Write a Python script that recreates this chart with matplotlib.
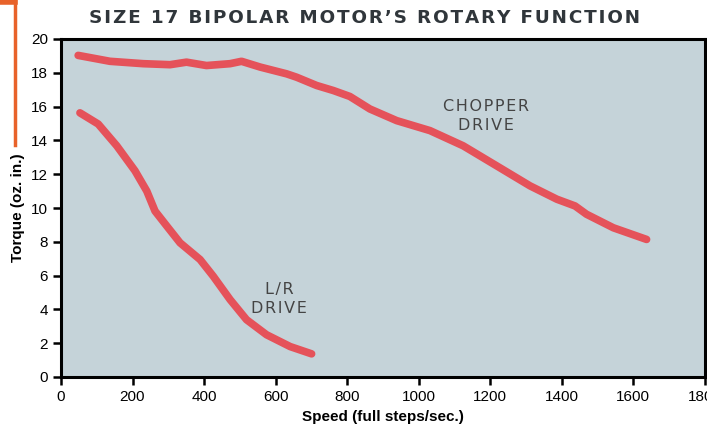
import matplotlib
matplotlib.use("Agg")
from matplotlib import pyplot as plt
from matplotlib.lines import Line2D

# chopper drive curve
chop_speed = [48, 137, 230, 305, 351, 407, 473, 505, 557, 631, 659, 715, 762, 808,
              864, 939, 1032, 1125, 1219, 1312, 1387, 1438, 1470, 1545, 1638]
chop_torque = [19.03, 18.68, 18.54, 18.48, 18.63, 18.43, 18.54, 18.68, 18.34, 17.94,
               17.74, 17.25, 16.95, 16.6, 15.86, 15.17, 14.58, 13.68, 12.49, 11.31,
               10.52, 10.12, 9.63, 8.83, 8.14]

# L/R drive curve
lr_speed = [53, 104, 156, 207, 240, 263, 296, 333, 389, 426, 473, 519, 575, 641, 701]
lr_torque = [15.63, 14.97, 13.68, 12.2, 11.0, 9.82, 8.93, 7.94, 6.95, 5.96, 4.58,
             3.39, 2.5, 1.8, 1.37]

xticks = [0, 200, 400, 600, 800, 1000, 1200, 1400, 1600, 1800]
yticks = [0, 2, 4, 6, 8, 10, 12, 14, 16, 18, 20]

red = '#e5525a'
plt.rcParams['font.family'] = ['Liberation Sans', 'DejaVu Sans']


def spaced(s, sep='\u200a'):
    return '\n'.join(sep.join(line) for line in s.split('\n'))


fig = plt.figure(figsize=(7.07, 4.34), dpi=100)
ax = fig.add_axes([61/707, 57/434, 643.5/707, 338/434])
ax.set_facecolor('#c5d3d9')

ax.plot(chop_speed, chop_torque, color=red, lw=5.5, solid_capstyle='round', solid_joinstyle='round')
ax.plot(lr_speed, lr_torque, color=red, lw=5.5, solid_capstyle='round', solid_joinstyle='round')

ax.set_xlim(0, 1800)
ax.set_ylim(0, 20)
ax.set_xticks(xticks)
ax.set_yticks(yticks)
ax.tick_params(direction='out', length=6, width=1.8, labelsize=11, color='black')
for s in ax.spines.values():
    s.set_linewidth(2.2)

ax.set_xlabel('Speed (full steps/sec.)', fontsize=11, fontweight='bold', labelpad=4)
ax.set_ylabel('Torque (oz. in.)', fontsize=11, fontweight='bold', labelpad=4)

ax.text(1189, 15.45, spaced('CHOPPER\nDRIVE'), ha='center', va='center', fontsize=11.5,
        color='#444444', family='DejaVu Sans', linespacing=1.35)
ax.text(610, 4.63, spaced('L/R\nDRIVE'), ha='center', va='center', fontsize=11.5,
        color='#444444', family='DejaVu Sans', linespacing=1.35)

fig.text(365/707, 1 - 18/434, spaced('SIZE 17 BIPOLAR MOTOR\u2019S ROTARY FUNCTION'),
         ha='center', va='center', fontsize=13.2, fontweight='heavy', color='#30363b',
         family='DejaVu Sans')

# orange accent at the top-left corner
fig.add_artist(Line2D([15/707, 15/707], [1, 1 - 145/434], color='#e8622a', lw=2.5, transform=fig.transFigure))
fig.add_artist(Line2D([0, 15/707], [1 - 2/434, 1 - 2/434], color='#e8622a', lw=4, transform=fig.transFigure))

fig.savefig('out.png', dpi=100)
